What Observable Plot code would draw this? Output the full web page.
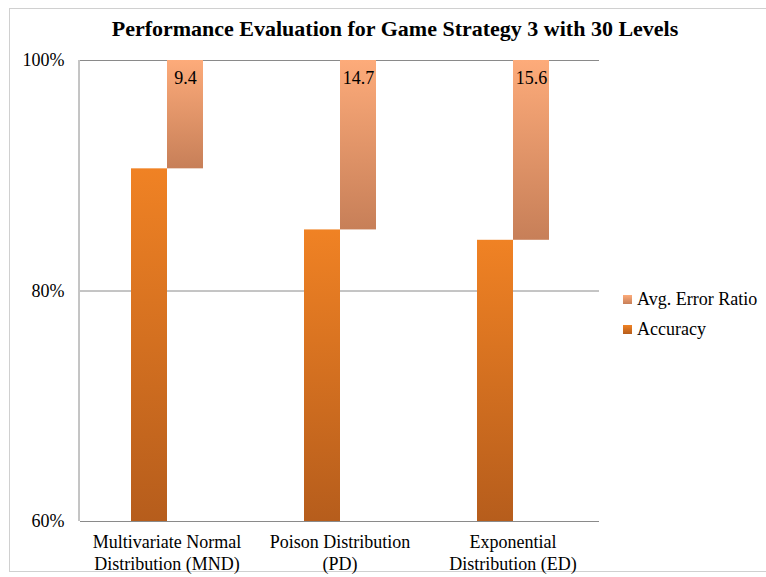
<!DOCTYPE html>
<html>
<head>
<meta charset="utf-8">
<script src="https://cdn.jsdelivr.net/npm/d3@7"></script>
<script src="https://cdn.jsdelivr.net/npm/@observablehq/plot@0.6"></script>
<style>
  html, body { margin: 0; padding: 0; background: #fff; }
  #wrap { position: relative; width: 766px; height: 577px; overflow: hidden; font-family: "Liberation Serif", "Times New Roman", serif; }
  #frame { position: absolute; left: 9px; top: 8px; width: 800px; height: 564px; border: 1px solid #d0d0d0; box-sizing: border-box; }
  #title { position: absolute; left: 0; width: 790px; top: 16px; text-align: center; font-weight: bold; font-size: 22px; color: #000; }
  #chart { position: absolute; left: 0; top: 45px; }
  #legend { position: absolute; left: 623px; top: 284px; font-size: 18px; color: #000; }
  .li { display: flex; align-items: center; height: 30px; }
  .sw { width: 9px; height: 9px; margin-right: 5px; }
</style>
</head>
<body>
<div id="wrap">
  <div id="frame"></div>
  <div id="title"></div>
  <div id="chart"></div>
  <div id="legend"></div>
</div>
<script>
const titleText = "Performance Evaluation  for Game Strategy 3 with  30 Levels";
const categories = ["MND", "PD", "ED"];
const categoryLabels = ["Multivariate Normal\nDistribution (MND)", "Poison Distribution\n(PD)", "Exponential\nDistribution (ED)"];
const accuracy = [90.6, 85.3, 84.4];
const errorRatio = [9.4, 14.7, 15.6];
const seriesNames = ["Accuracy", "Avg. Error Ratio"];
const yTicks = [60, 80, 100];

document.getElementById("title").textContent = titleText;

const accData = categories.map((c, i) => ({cat: c, series: seriesNames[0], top: accuracy[i]}));
const errData = categories.map((c, i) => ({cat: c, series: seriesNames[1], low: 100 - errorRatio[i], top: 100, label: String(errorRatio[i])}));

const plot = Plot.plot({
  width: 766,
  height: 532,
  marginLeft: 79,
  marginRight: 167,
  marginTop: 15,
  marginBottom: 56,
  style: {fontFamily: "'Liberation Serif', 'Times New Roman', serif", fontSize: "18px", color: "#000", background: "transparent"},
  fx: {domain: categories, padding: 0, label: null},
  x: {domain: seriesNames, paddingInner: 0, paddingOuter: 1.4, axis: null},
  y: {domain: [60, 100], ticks: yTicks, tickFormat: d => d + "%", label: null, tickSize: 0, tickPadding: 16},
  marks: [
    Plot.axisFx({anchor: "bottom", tickFormat: d => categoryLabels[categories.indexOf(d)], tickSize: 0, tickPadding: 12, lineHeight: 1.17, label: null, fontSize: 18}),
    Plot.gridY(yTicks.slice(1), {stroke: "#8a8a8a", strokeOpacity: 1, strokeWidth: 1}),
    Plot.barY(accData, {fx: "cat", x: "series", y1: 60, y2: "top", fill: "url(#gAcc)"}),
    Plot.barY(errData, {fx: "cat", x: "series", y1: "low", y2: "top", fill: "url(#gErr)"}),
    Plot.text(errData, {fx: "cat", x: "series", y: "top", text: "label", lineAnchor: "top", dy: 11, fill: "#000", fontSize: 18}),
    Plot.ruleY([60], {stroke: "#8a8a8a"})
  ]
});

// gradients
const svgns = "http://www.w3.org/2000/svg";
const defs = document.createElementNS(svgns, "defs");
function grad(id, top, bottom) {
  const g = document.createElementNS(svgns, "linearGradient");
  g.setAttribute("id", id);
  g.setAttribute("x1", "0"); g.setAttribute("y1", "0");
  g.setAttribute("x2", "0"); g.setAttribute("y2", "1");
  [[0, top], [1, bottom]].forEach(([o, c]) => {
    const s = document.createElementNS(svgns, "stop");
    s.setAttribute("offset", o);
    s.setAttribute("stop-color", c);
    g.appendChild(s);
  });
  defs.appendChild(g);
}
grad("gAcc", "#f08224", "#b65d1c");
grad("gErr", "#fdab7a", "#c77f58");
plot.insertBefore(defs, plot.firstChild);

// left axis line
const ys = plot.scale("y");
const axisLine = document.createElementNS(svgns, "line");
axisLine.setAttribute("x1", 79); axisLine.setAttribute("x2", 79);
axisLine.setAttribute("y1", ys.apply(100)); axisLine.setAttribute("y2", ys.apply(60));
axisLine.setAttribute("stroke", "#8a8a8a");
plot.appendChild(axisLine);

document.getElementById("chart").appendChild(plot);

// legend
const legend = document.getElementById("legend");
[[seriesNames[1], "linear-gradient(#fdab7a, #c77f58)"], [seriesNames[0], "linear-gradient(#f08224, #b65d1c)"]].forEach(([name, bg]) => {
  const row = document.createElement("div");
  row.className = "li";
  const sw = document.createElement("div");
  sw.className = "sw";
  sw.style.background = bg;
  const t = document.createElement("span");
  t.textContent = name;
  row.appendChild(sw); row.appendChild(t);
  legend.appendChild(row);
});
</script>
</body>
</html>
